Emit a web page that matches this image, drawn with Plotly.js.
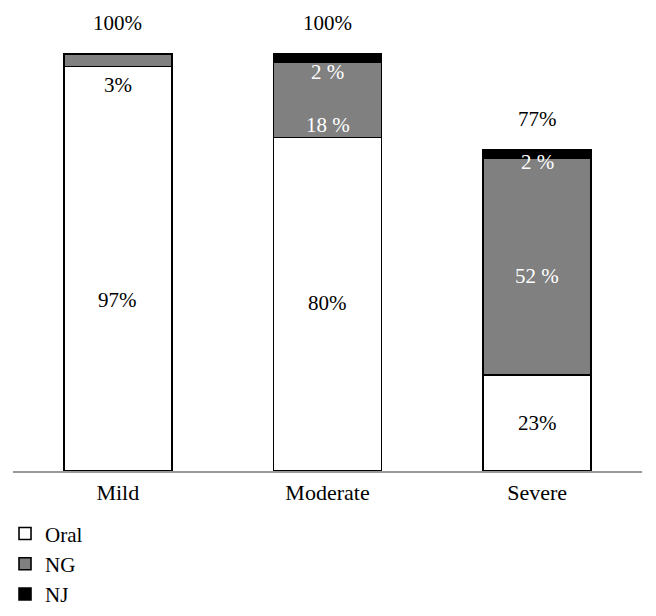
<!DOCTYPE html>
<html>
<head>
<meta charset="utf-8">
<script src="https://cdn.plot.ly/plotly-3.0.1.min.js"></script>
<style>
  html, body { margin: 0; padding: 0; background: #fff; }
  #chart { width: 656px; height: 616px; }
</style>
</head>
<body>
<div id="chart"></div>
<script>
const categories = ['Mild', 'Moderate', 'Severe'];
const oralValues = [97, 80, 23];
const ngValues = [3, 18, 52];
const njValues = [0, 2, 2];
const totalLabels = ['100%', '100%', '77%'];
const totalValues = [100, 100, 77];

// segment labels: [category, y position in %, text, colour]
const segmentLabels = [
  ['Mild', 92.6, '3%', '#000'],
  ['Mild', 41, '97%', '#000'],
  ['Moderate', 95.7, '2 %', '#fff'],
  ['Moderate', 83, '18 %', '#fff'],
  ['Moderate', 40.3, '80%', '#000'],
  ['Severe', 74.1, '2 %', '#fff'],
  ['Severe', 46.7, '52 %', '#fff'],
  ['Severe', 11.5, '23%', '#000']
];

const font = 'Liberation Serif, Times New Roman, serif';
const outline = { color: '#000', width: 1.6 };

function barTrace(name, values, fill) {
  return {
    type: 'bar',
    name: name,
    x: categories,
    y: values,
    marker: { color: fill, line: outline },
    hoverinfo: 'skip'
  };
}

const traces = [
  barTrace('Oral', oralValues, '#ffffff'),
  barTrace('NG', ngValues, '#808080'),
  barTrace('NJ', njValues, '#000000')
];

const annotations = [];
categories.forEach((c, i) => {
  annotations.push({
    x: c, y: totalValues[i], yshift: 31, text: totalLabels[i],
    showarrow: false, font: { family: font, size: 21, color: '#000' }
  });
});
segmentLabels.forEach(s => {
  annotations.push({
    x: s[0], y: s[1], text: s[2], showarrow: false,
    font: { family: font, size: 21, color: s[3] }
  });
});

const layout = {
  width: 656,
  height: 616,
  barmode: 'stack',
  bargap: 0.485,
  margin: { l: 13, r: 14, t: 10, b: 145, autoexpand: false },
  paper_bgcolor: '#fff',
  plot_bgcolor: '#fff',
  font: { family: font, size: 21, color: '#000' },
  xaxis: {
    showline: true,
    linecolor: '#999',
    linewidth: 2,
    ticks: '',
    ticklabelstandoff: 1,
    showgrid: false,
    zeroline: false,
    tickfont: { family: font, size: 22, color: '#000' }
  },
  yaxis: {
    range: [0, 110.6],
    visible: false,
    showgrid: false,
    zeroline: false
  },
  showlegend: true,
  legend: {
    orientation: 'v',
    traceorder: 'normal',
    x: -0.0127,
    xanchor: 'left',
    y: -0.0918,
    yanchor: 'top',
    font: { family: font, size: 21, color: '#000' },
    itemwidth: 30
  },
  annotations: annotations
};

Plotly.newPlot('chart', traces, layout, { displayModeBar: false, staticPlot: true });
</script>
</body>
</html>
